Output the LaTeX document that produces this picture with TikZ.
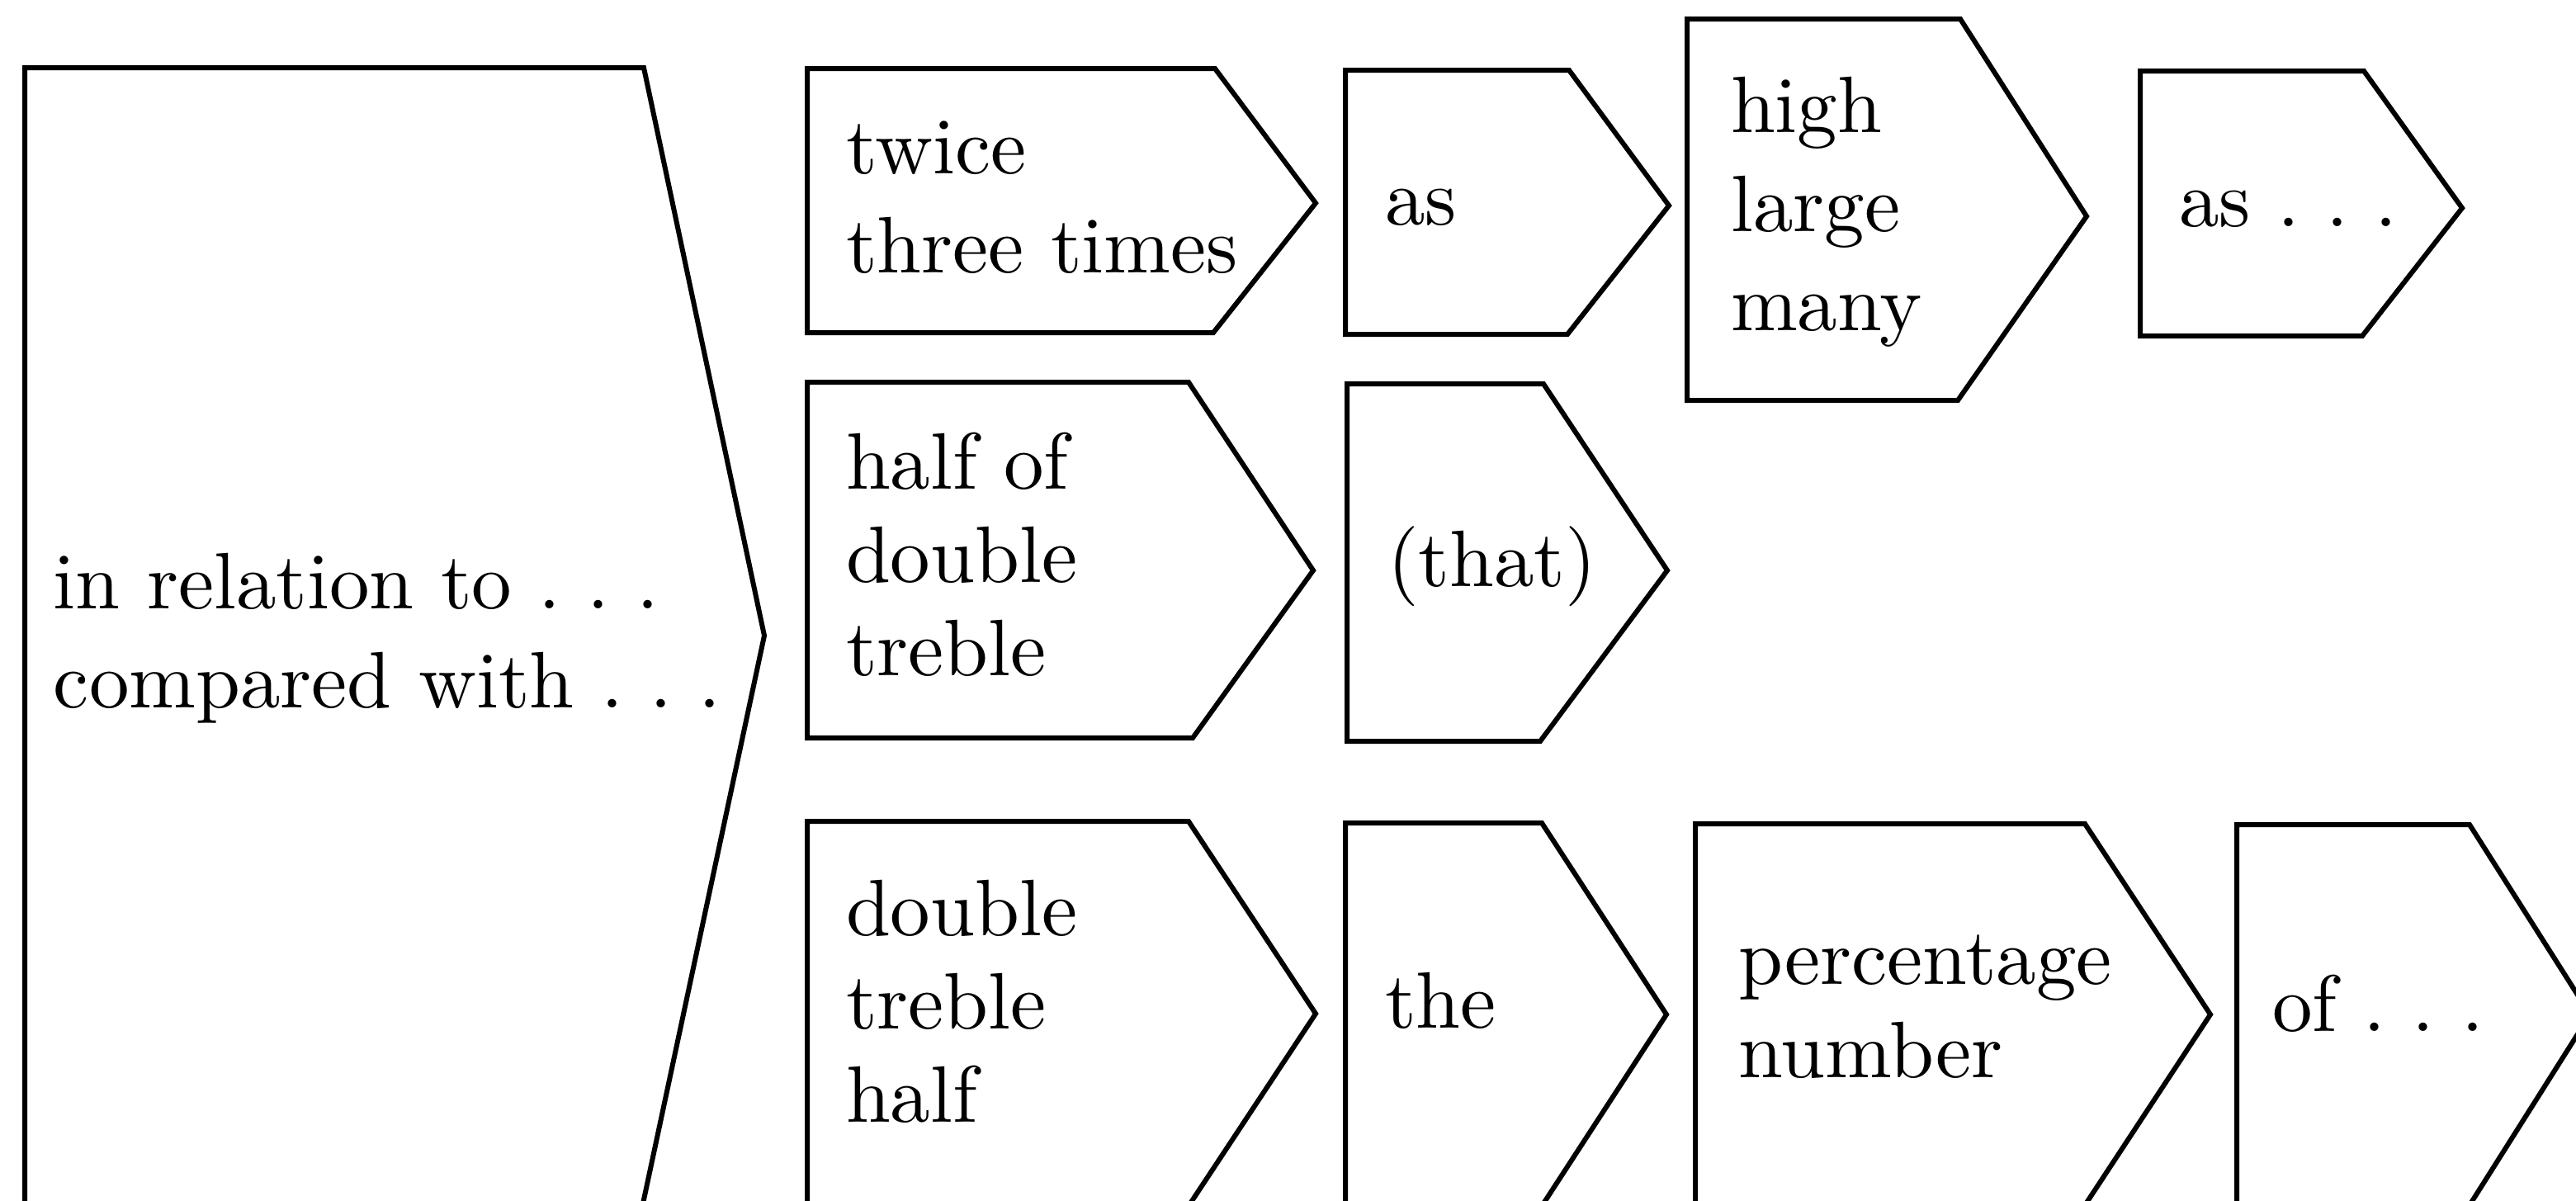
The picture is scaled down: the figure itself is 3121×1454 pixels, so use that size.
\documentclass[tikz,border=0pt]{standalone}
\usepackage{tikz}

\tikzset{
  arrowbox/.style={draw=black, line width=0.6pt, line join=miter},
  words/.style={align=left, inner sep=0pt, anchor=base west,
                font=\fontsize{9.7}{12}\selectfont},
  closewords/.style={words, font=\fontsize{9.7}{11.3}\selectfont}
}

\begin{document}
\begin{tikzpicture}[x=0.1pt, y=-0.1pt]
  \useasboundingbox (0,0) rectangle (3121,1454);
  \clip (0,0) rectangle (3121,1454);
  % Big arrow on the left (text placed at its last baseline)
  \draw[arrowbox] (30,82) -- (780,82) -- (926,770) -- (779,1458) -- (30,1458) -- cycle;
  \node[words] (rel) at (63,857) {in relation to .~.~.\\compared with .~.~.};
  % Row 1
  \draw[arrowbox] (978,83) -- (1472,83) -- (1594,246) -- (1470,403) -- (978,403) -- cycle;
  \node[words] (twice) at (1023,330) {twice\\three times};
  \draw[arrowbox] (1630,85) -- (1901,85) -- (2022,249) -- (1899,405) -- (1630,405) -- cycle;
  \node[words] (as) at (1676,272) {as};
  \draw[arrowbox] (2044,23) -- (2375,23) -- (2528,262) -- (2372,485) -- (2044,485) -- cycle;
  \node[words] (high) at (2095,400) {high\\large\\many};
  \draw[arrowbox] (2593,86) -- (2864,86) -- (2983,252) -- (2862,407) -- (2593,407) -- cycle;
  \node[words] (asdots) at (2638,274) {as .~.~.};
  % Row 2
  \draw[arrowbox] (978,463) -- (1440,463) -- (1591,691) -- (1445,894) -- (978,894) -- cycle;
  \node[closewords] (halfof) at (1023,818) {half of\\double\\treble};
  \draw[arrowbox] (1632,465) -- (1870,465) -- (2020,691) -- (1866,898) -- (1632,898) -- cycle;
  \node[words] (that) at (1679,710) {(that)};
  % Row 3
  \draw[arrowbox] (978,995) -- (1440,995) -- (1594,1228) -- (1440,1461) -- (978,1461) -- cycle;
  \node[closewords] (double) at (1023,1359) {double\\treble\\half};
  \draw[arrowbox] (1630,997) -- (1868,997) -- (2019,1229) -- (1868,1461) -- (1630,1461) -- cycle;
  \node[words] (the) at (1676,1245) {the};
  \draw[arrowbox] (2054,998) -- (2526,998) -- (2678,1229) -- (2526,1460) -- (2054,1460) -- cycle;
  \node[closewords] (percent) at (2104,1305) {percentage\\number};
  \draw[arrowbox] (2710,999) -- (2992,999) -- (3138,1229) -- (2992,1460) -- (2710,1460) -- cycle;
  \node[words] (of) at (2751,1249) {of .~.~.};
\end{tikzpicture}
\end{document}
